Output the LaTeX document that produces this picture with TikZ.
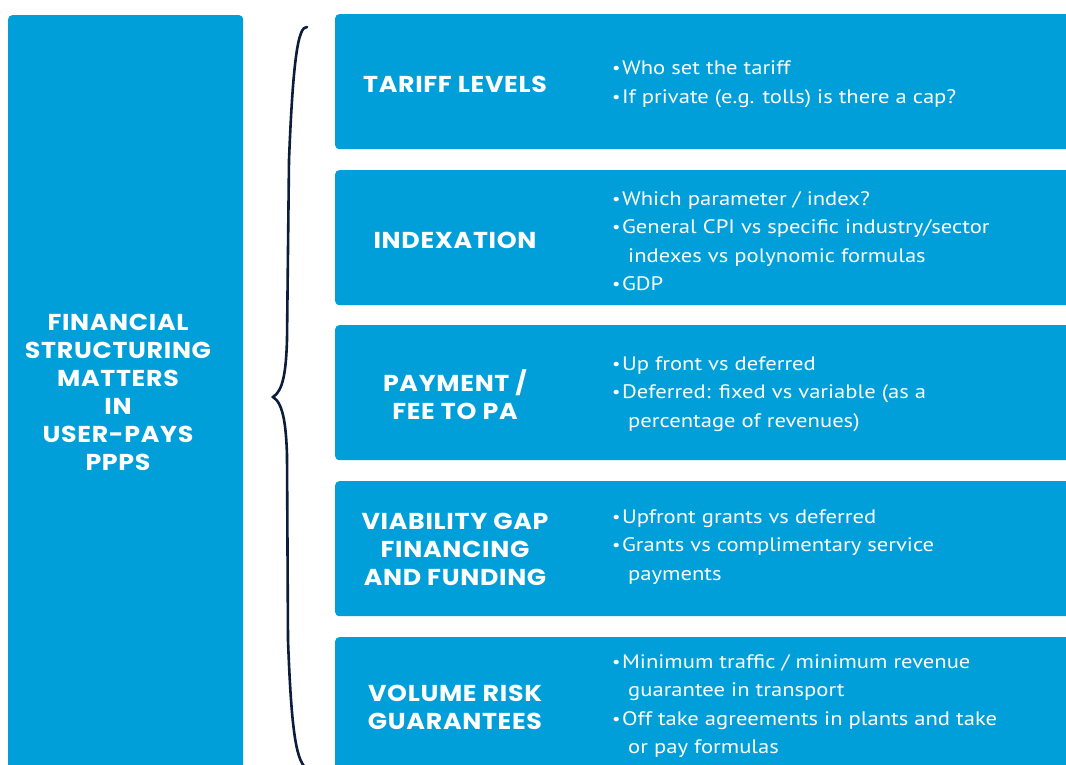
\documentclass[tikz,border=0pt]{standalone}
\usepackage{fontspec}
\setmainfont{PT Sans}[FakeStretch=1.16]
\newfontfamily\headfont{Poppins}[FakeStretch=1.1, LetterSpace=3]

\definecolor{ppblue}{HTML}{009FDA}
\definecolor{bracenavy}{HTML}{0B1D3A}

\newcommand{\bul}{\raisebox{1pt}{\fontsize{16}{16}\selectfont\textbullet}\hspace{1.5pt}}
\newcommand{\bulpad}{\hspace*{16pt}}

\tikzset{
  panel/.style={fill=ppblue, rounded corners=4pt, inner sep=0pt},
  heading/.style={text=white, font=\headfont\bfseries\fontsize{23}{28}\selectfont, align=center},
  bullets/.style={text=white, font=\fontsize{19.5}{28.5}\selectfont, align=left, anchor=west, inner sep=0pt},
}

\begin{document}
\begin{tikzpicture}[x=1pt, y=-1pt]
  \useasboundingbox (0,0) rectangle (1066,764);
  \clip (0,0) rectangle (1066,764);

  % Left panel
  \node[panel, anchor=north west, minimum width=235, minimum height=780] (main) at (8,15) {};
  \node[heading] (maintitle) at (118,392) {FINANCIAL\\STRUCTURING\\MATTERS\\IN\\USER-PAYS\\PPPS};

  % Brace
  \draw[bracenavy, line width=2.6pt, line cap=round]
    (307,27) .. controls (298,26) and (293,60) .. (289,160) -- (287,340)
    .. controls (286,372) and (283,391) .. (273,397)
    .. controls (283,403) and (286,424) .. (287,455) -- (288,640)
    .. controls (291,720) and (295,760) .. (306,768);

  % Right panels
  \foreach \i/\ytop in {1/14, 2/170, 3/325, 4/481, 5/637}{
    \node[panel, anchor=north west, minimum width=760, minimum height=135] (box\i) at (335,\ytop) {};
  }

  % Headings
  \node[heading] (title1) at (455,84) {TARIFF LEVELS};
  \node[heading] (title2) at (455,240) {INDEXATION};
  \node[heading] (title3) at (455,395) {PAYMENT /\\FEE TO PA};
  \node[heading] (title4) at (455,549) {VIABILITY GAP\\FINANCING\\AND FUNDING};
  \node[heading] (title5) at (455,707) {VOLUME RISK\\GUARANTEES};

  % Bullet points
  \node[bullets] (info1) at (612,84) {\bul Who set the tariff\\\bul If private (e.g. tolls) is there a cap?};
  \node[bullets] (info2) at (612,241) {\bul Which parameter / index?\\\bul General CPI vs specific industry/sector\\\bulpad indexes vs polynomic formulas\\\bul GDP};
  \node[bullets] (info3) at (612,394) {\bul Up front vs deferred\\\bul Deferred: fixed vs variable (as a\\\bulpad percentage of revenues)};
  \node[bullets] (info4) at (612,547) {\bul Upfront grants vs deferred\\\bul Grants vs complimentary service\\\bulpad payments};
  \node[bullets] (info5) at (612,706) {\bul Minimum traffic / minimum revenue\\\bulpad guarantee in transport\\\bul Off take agreements in plants and take\\\bulpad or pay formulas};
\end{tikzpicture}
\end{document}
